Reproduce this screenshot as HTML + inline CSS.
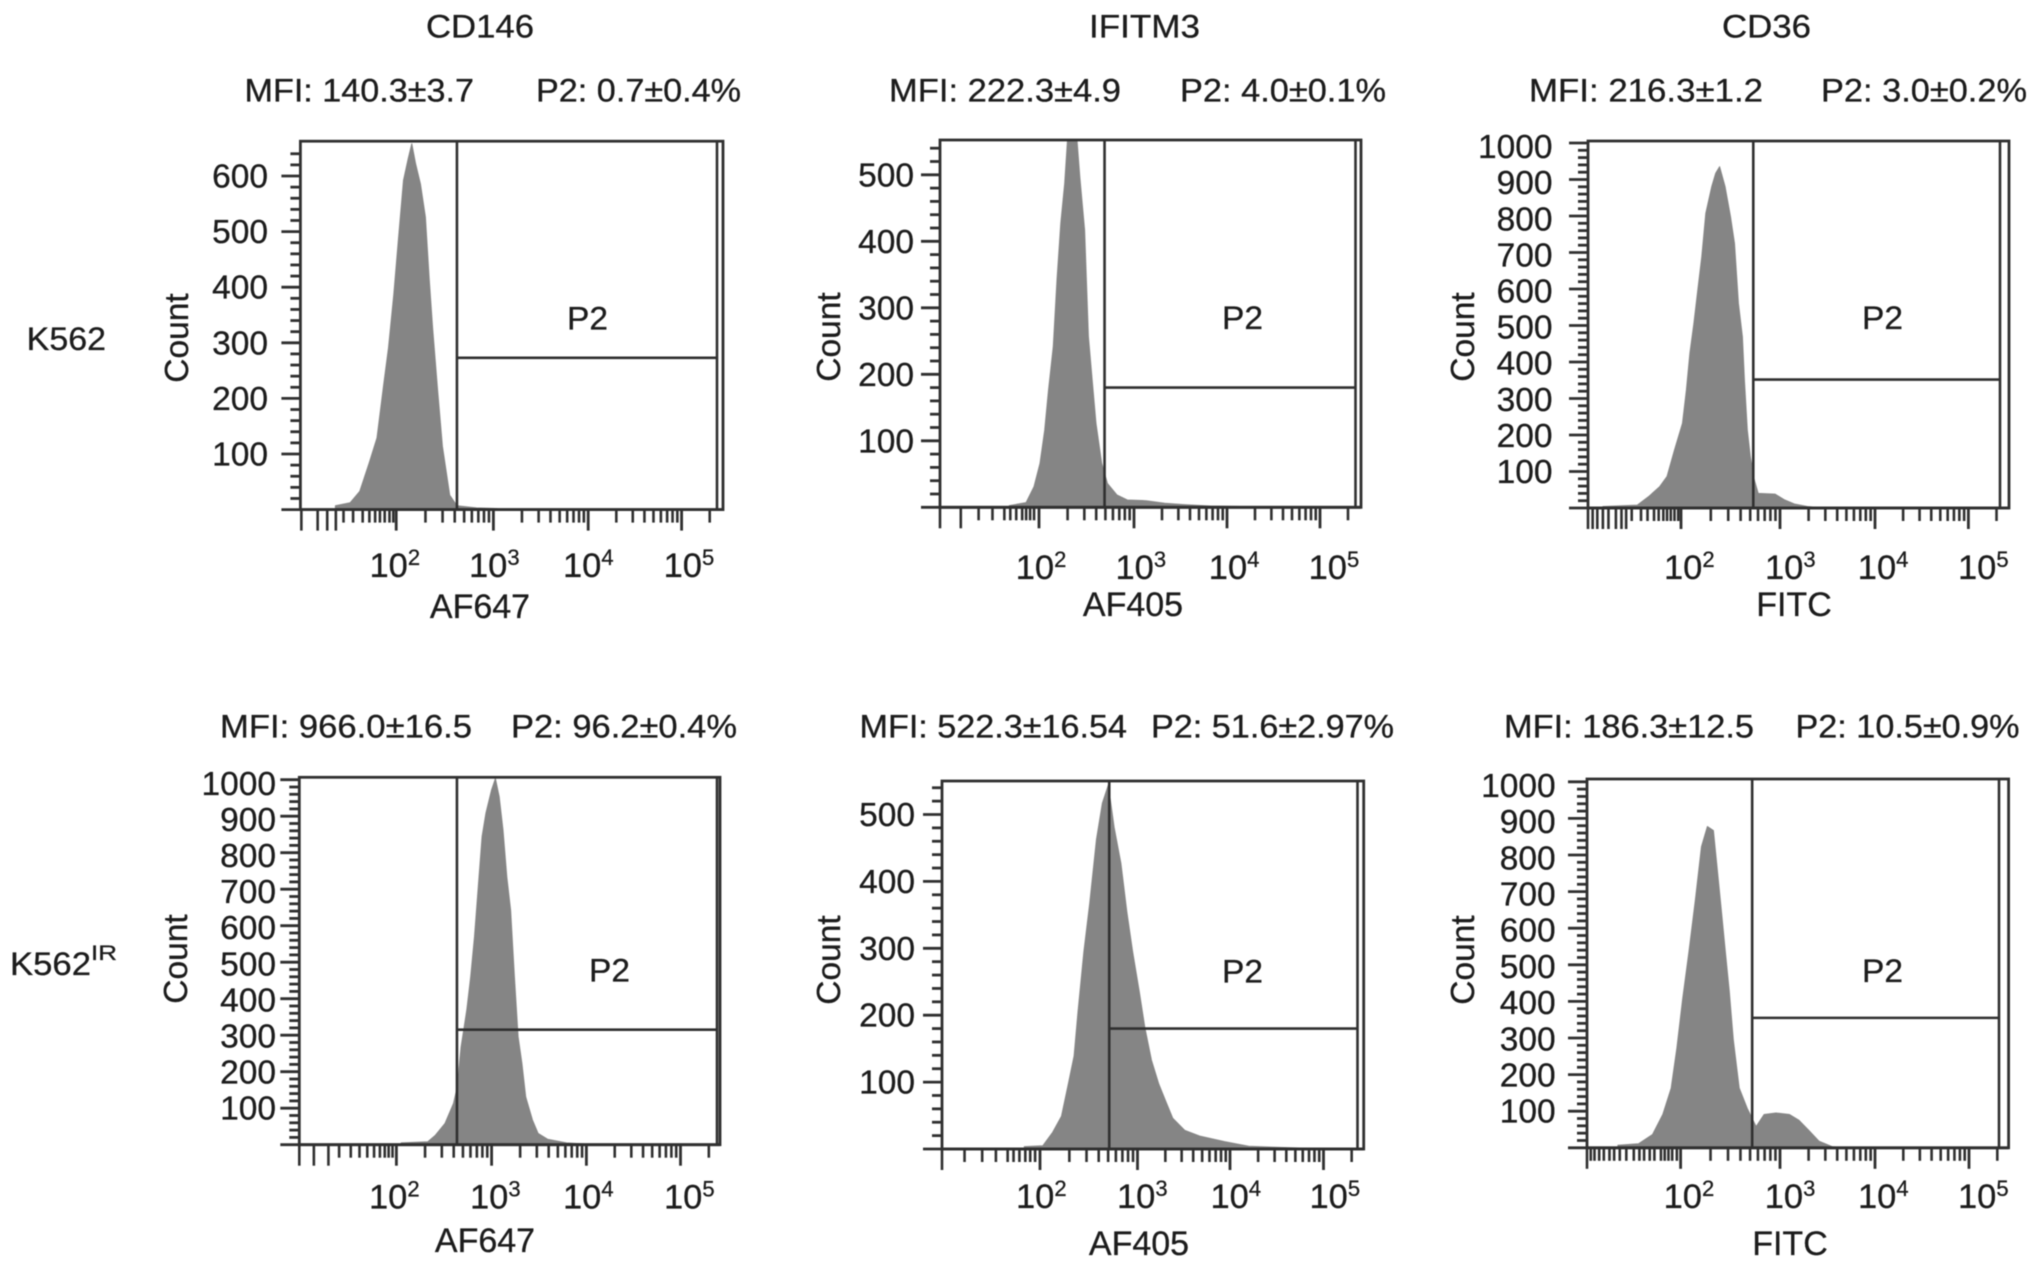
<!DOCTYPE html>
<html lang="en">
<head>
<meta charset="utf-8">
<title>Flow cytometry histograms</title>
<style>
html,body{margin:0;padding:0;background:#fff;}
body{width:2032px;height:1266px;overflow:hidden;}
svg{display:block;filter:blur(0.5px);}
text{font-family:"Liberation Sans",sans-serif;fill:#1c1c1c;stroke:#1c1c1c;stroke-width:0.3px;font-size:32px;}
</style>
</head>
<body>
<svg id="figure" width="2032" height="1266" viewBox="0 0 2032 1266" xmlns="http://www.w3.org/2000/svg">
  <text x="426" y="37.5" textLength="108" lengthAdjust="spacingAndGlyphs">CD146</text>
  <text x="1089" y="37.5" textLength="111" lengthAdjust="spacingAndGlyphs">IFITM3</text>
  <text x="1722" y="37.5" textLength="89" lengthAdjust="spacingAndGlyphs">CD36</text>

  <text x="244.5" y="101.5" textLength="229.5" lengthAdjust="spacingAndGlyphs">MFI: 140.3±3.7</text>
  <text x="536" y="101.5" textLength="205" lengthAdjust="spacingAndGlyphs">P2: 0.7±0.4%</text>
  <text x="889" y="101.5" textLength="232" lengthAdjust="spacingAndGlyphs">MFI: 222.3±4.9</text>
  <text x="1180" y="101.5" textLength="206" lengthAdjust="spacingAndGlyphs">P2: 4.0±0.1%</text>
  <text x="1529" y="101.5" textLength="234" lengthAdjust="spacingAndGlyphs">MFI: 216.3±1.2</text>
  <text x="1821" y="101.5" textLength="206" lengthAdjust="spacingAndGlyphs">P2: 3.0±0.2%</text>

  <text x="220" y="737.5" textLength="252" lengthAdjust="spacingAndGlyphs">MFI: 966.0±16.5</text>
  <text x="511" y="737.5" textLength="226" lengthAdjust="spacingAndGlyphs">P2: 96.2±0.4%</text>
  <text x="859.5" y="737.5" textLength="267.5" lengthAdjust="spacingAndGlyphs">MFI: 522.3±16.54</text>
  <text x="1151" y="737.5" textLength="243" lengthAdjust="spacingAndGlyphs">P2: 51.6±2.97%</text>
  <text x="1504" y="737.5" textLength="250" lengthAdjust="spacingAndGlyphs">MFI: 186.3±12.5</text>
  <text x="1795.5" y="737.5" textLength="224" lengthAdjust="spacingAndGlyphs">P2: 10.5±0.9%</text>

  <text x="26.7" y="350" textLength="79.3" lengthAdjust="spacingAndGlyphs">K562</text>
  <text x="10" y="975" textLength="81" lengthAdjust="spacingAndGlyphs">K562</text>
  <text x="91" y="960" style="font-size:21px" textLength="26" lengthAdjust="spacingAndGlyphs">IR</text>
</svg>

<script>
// Shared axis data
const decadeLogs = [2, 3, 4, 5];
const decadeMultipliers = [2, 3, 4, 5, 6, 7, 8, 9];

// K562 / CD146
const k562Cd146Logs = [1.365,1.52,1.62,1.72,1.80,1.87,1.92,1.975,2.025,2.075,2.125,2.16,2.20,2.25,2.30,2.34,2.375,2.425,2.475,2.55,2.625,2.825,3.025,3.1];
const k562Cd146Counts = [7,12.5,33,85,129,225,291,387,490,592,632,658,622,585,526,415,327,217,114,26,7,3,2,0];
const k562Cd146YTicks = [100,200,300,400,500,600];
const k562Cd146LowTicks = [1.01,1.18,1.28,1.37,1.45,1.55,1.65,1.72,1.78,1.83,1.88,1.93,1.97];

// K562 / IFITM3
const k562Ifitm3Logs = [1.70,1.87,1.95,2.01,2.06,2.10,2.15,2.19,2.23,2.27,2.30,2.35,2.40,2.43,2.48,2.52,2.56,2.60,2.66,2.72,2.82,2.93,3.13,3.33,3.54,3.82,4.23,4.76];
const k562Ifitm3Counts = [2.5,7,31,66,116,176,242,342,427,487,552,600,552,497,417,257,191,126,66,36,18.5,11,10,6,4,2,1,0.5];
const k562Ifitm3YTicks = [100,200,300,400,500];
const k562Ifitm3LowTicks = [1.0,1.21,1.39,1.53,1.65,1.71,1.77,1.83,1.87,1.91,1.95];

// K562 / CD36
const k562Cd36Logs = [1.16,1.53,1.65,1.77,1.85,1.93,2.015,2.055,2.09,2.13,2.17,2.21,2.25,2.31,2.35,2.39,2.445,2.50,2.54,2.58,2.62,2.64,2.67,2.70,2.74,2.78,2.95,3.05,3.15,3.29,3.42];
const k562Cd36Counts = [4,8,31,58,86,159,232,323,424,506,597,689,807,880,917,935,880,798,725,561,469,351,214,141,77,40,38,22,11,4,1];
const k562Cd36YTicks = [100,200,300,400,500,600,700,800,900,1000];
const k562Cd36LowTicks = [1.0,1.05,1.10,1.16,1.22,1.30,1.36,1.41,1.47,1.57,1.64,1.71,1.76,1.81,1.85,1.89,1.93,1.97];

// K562IR / CD146
const k562irCd146Logs = [2.05,2.33,2.41,2.51,2.60,2.64,2.68,2.74,2.78,2.82,2.86,2.90,2.94,3.00,3.04,3.08,3.12,3.16,3.20,3.24,3.28,3.32,3.36,3.43,3.49,3.59,3.79,3.99];
const k562irCd146Counts = [5,8,26,58,113,159,268,369,460,570,707,844,908,972,1003,953,862,734,643,460,296,223,131,68,31,15,5,2];
const k562irCd146YTicks = [100,200,300,400,500,600,700,800,900,1000];
const k562irCd146LowTicks = [1.0,1.15,1.30,1.41,1.53,1.62,1.70,1.77,1.83,1.88,1.92,1.96];

// K562IR / IFITM3
const k562irIfitm3Logs = [1.84,2.03,2.13,2.22,2.29,2.35,2.39,2.45,2.51,2.58,2.64,2.70,2.76,2.83,2.89,2.95,3.02,3.08,3.15,3.23,3.30,3.38,3.51,3.68,3.94,4.2,4.66,4.96];
const k562irIfitm3Counts = [3.6,5,25,49,97,139,205,295,367,463,517,544,481,427,355,295,235,181,133,97,73,46,28,19,11,4,2,0.6];
const k562irIfitm3YTicks = [100,200,300,400,500];
const k562irIfitm3LowTicks = [1.0,1.23,1.41,1.55,1.67,1.73,1.79,1.85,1.90,1.95];

// K562IR / CD36
const k562irCd36Logs = [1.33,1.55,1.70,1.81,1.90,1.96,2.02,2.085,2.15,2.21,2.27,2.33,2.37,2.41,2.45,2.49,2.53,2.59,2.67,2.76,2.84,2.96,3.10,3.20,3.305,3.41,3.55,3.65];
const k562irCd36Counts = [7,11,36,91,163,273,405,537,680,823,878,867,757,647,537,427,295,163,108,58,91,95,91,75,47,18,3,1];
const k562irCd36YTicks = [100,200,300,400,500,600,700,800,900,1000];
const k562irCd36LowTicks = [1.0,1.04,1.08,1.13,1.18,1.24,1.29,1.35,1.42,1.50,1.56,1.61,1.67,1.72,1.79,1.83,1.87,1.91,1.96];

// Gate thresholds (log position, count)
const gateLogs = [2.625,2.69,2.73,2.636,2.71,2.72];
const gateCounts = [273,180,352,315,180,355];

const SVG_NS = 'http://www.w3.org/2000/svg';
const figure = document.getElementById('figure');
const INK = '#303030';

const panels = [
  {id:'k562-cd146', logs:k562Cd146Logs, counts:k562Cd146Counts, yTicks:k562Cd146YTicks, lowTicks:k562Cd146LowTicks, longLow:4, left:300.4, inner:717, outer:723, top:141.2, base:509.6, perCount:0.556, anchors:[300.4,396.2,493.4,588.2,681.6], labelX:268, drift:0, maxCount:640, gate:0, xLabel:'AF647', xLabelX:480, xLabelY:618, decLeft:[369.5,469,563,663.6], decY:577, countX:188, countY:338, p2X:567, p2Y:329.5},
  {id:'k562-ifitm3', logs:k562Ifitm3Logs, counts:k562Ifitm3Counts, yTicks:k562Ifitm3YTicks, lowTicks:k562Ifitm3LowTicks, longLow:2, left:940, inner:1355.5, outer:1361, top:140, base:507.3, perCount:0.665, anchors:[940,1039,1134,1227,1320], labelX:914, drift:0, maxCount:540, gate:1, xLabel:'AF405', xLabelX:1133, xLabelY:616, decLeft:[1015.7,1115.5,1208.8,1308.6], decY:579, countX:840, countY:337, p2X:1222, p2Y:329},
  {id:'k562-cd36', logs:k562Cd36Logs, counts:k562Cd36Counts, yTicks:k562Cd36YTicks, lowTicks:k562Cd36LowTicks, longLow:8, left:1588, inner:2000, outer:2009, top:141, base:508, perCount:0.365, anchors:[1588,1681,1780,1875,1968.4], labelX:1552.5, drift:0.004, maxCount:1000, gate:2, xLabel:'FITC', xLabelX:1794, xLabelY:616, decLeft:[1664,1765,1857.8,1958], decY:579, countX:1474, countY:337, p2X:1862, p2Y:329},
  {id:'k562ir-cd146', logs:k562irCd146Logs, counts:k562irCd146Counts, yTicks:k562irCd146YTicks, lowTicks:k562irCd146LowTicks, longLow:3, left:299.3, inner:717, outer:720, top:777.3, base:1144.7, perCount:0.365, anchors:[299.3,396.4,491.6,586.4,680.5], labelX:276, drift:0.004, maxCount:1000, gate:3, xLabel:'AF647', xLabelX:485, xLabelY:1252, decLeft:[369,470,563,664], decY:1208.7, countX:187, countY:959, p2X:589, p2Y:981.7},
  {id:'k562ir-ifitm3', logs:k562irIfitm3Logs, counts:k562irIfitm3Counts, yTicks:k562irIfitm3YTicks, lowTicks:k562irIfitm3LowTicks, longLow:1, left:942, inner:1357.5, outer:1363.7, top:781, base:1149, perCount:0.669, anchors:[942,1040,1137.5,1230,1323.5], labelX:915, drift:0, maxCount:540, gate:4, xLabel:'AF405', xLabelX:1139, xLabelY:1255, decLeft:[1016,1117,1210.5,1309.5], decY:1208, countX:840, countY:960, p2X:1222, p2Y:982.4},
  {id:'k562ir-cd36', logs:k562irCd36Logs, counts:k562irCd36Counts, yTicks:k562irCd36YTicks, lowTicks:k562irCd36LowTicks, longLow:1, left:1587, inner:1999, outer:2008.6, top:779, base:1147.8, perCount:0.366, anchors:[1587,1680.6,1780,1875,1969], labelX:1555.7, drift:0.004, maxCount:1000, gate:5, xLabel:'FITC', xLabelX:1790, xLabelY:1255, decLeft:[1663.6,1764.7,1858,1958], decY:1208, countX:1474, countY:960, p2X:1862, p2Y:982}
];

function xScale(p, log) {
  const i = Math.min(3, Math.max(0, Math.floor(log) - 1));
  const a = p.anchors[i], b = p.anchors[i + 1];
  return a + (log - (i + 1)) * (b - a);
}
function yScale(p, count) {
  return Math.max(p.top, p.base - count * p.perCount);
}
function make(tag, attrs, parent) {
  const el = document.createElementNS(SVG_NS, tag);
  for (const k in attrs) el.setAttribute(k, attrs[k]);
  parent.appendChild(el);
  return el;
}
function strokeLine(parent, x1, y1, x2, y2, w) {
  return make('line', {x1:x1, y1:y1, x2:x2, y2:y2, stroke:INK, 'stroke-width':w}, parent);
}

panels.forEach(function (p) {
  const g = make('g', {}, figure);
  
  

  // Histogram
  let pts = [xScale(p, p.logs[0]) + ',' + p.base];
  p.logs.forEach(function (l, i) {
    pts.push(xScale(p, l).toFixed(1) + ',' + yScale(p, p.counts[i]).toFixed(1));
  });
  pts.push(xScale(p, p.logs[p.logs.length - 1]) + ',' + p.base);
  const hist = make('polygon', {points: pts.join(' '), fill:'#858585', stroke:'#858585', 'stroke-width':1, 'stroke-linejoin':'round'}, g);
  
  

  // Y ticks: a minor tick every 20 counts, a major tick every 100
  for (let v = 20; v <= p.maxCount; v += 20) {
    const y = yScale(p, v);
    const isMajor = p.yTicks.indexOf(v) >= 0;
    const tick = strokeLine(g, p.left - (isMajor ? 19 : 10), y, p.left, y, 2.8);
    
    
  }
  p.yTicks.forEach(function (v) {
    const y = yScale(p, v);
    const label = make('text', {x:p.labelX, y:(y + 11.5 + (v - 100) * p.drift).toFixed(1), 'text-anchor':'end', style:'font-size:33.5px'}, g);
    label.textContent = String(v);
    
    
  });

  // X ticks: low-end compressed ticks
  p.lowTicks.forEach(function (l, i) {
    const x = xScale(p, l);
    const t = strokeLine(g, x, p.base, x, p.base + (i < p.longLow ? 21 : 13), 2.6);
    
    
  });
  // X ticks: decades and their minor multiples
  decadeLogs.forEach(function (d, di) {
    const xd = xScale(p, d);
    const major = strokeLine(g, xd, p.base, xd, p.base + 21, 2.8);
    
    
    if (d < 5) {
      decadeMultipliers.forEach(function (m) {
        const x = xScale(p, d + Math.log10(m));
        const t = strokeLine(g, x, p.base, x, p.base + 13, 2.6);
        
        
      });
    } else {
      const x = xScale(p, d + Math.log10(2));
      const t = strokeLine(g, x, p.base, x, p.base + 13, 2.6);
      
      
    }
    const lab = make('text', {x:p.decLeft[di], y:p.decY, style:'font-size:34.5px'}, g);
    
    
    const base = make('tspan', {}, lab);
    base.textContent = '10';
    const sup = make('tspan', {dy:-12, style:'font-size:22px'}, lab);
    sup.textContent = String(d);
  });

  // Gate
  const gx = xScale(p, gateLogs[p.gate]);
  const gy = yScale(p, gateCounts[p.gate]);
  const gv = strokeLine(g, gx, p.top, gx, p.base, 2.6);
  
  
  const gh = strokeLine(g, gx, gy, p.inner, gy, 2.6);
  
  
  const gr = strokeLine(g, p.inner, p.top, p.inner, p.base, 2.6);
  
  

  // Frame and baseline
  const frame = make('rect', {x:p.left, y:p.top, width:p.outer - p.left, height:p.base - p.top, fill:'none', stroke:INK, 'stroke-width':2.8}, g);
  
  
  const baseLine = strokeLine(g, p.left - 19, p.base, p.outer, p.base, 2.8);
  
  

  // Labels
  const xTitle = make('text', {x:p.xLabelX, y:p.xLabelY, 'text-anchor':'middle', style:'font-size:34px'}, g);
  xTitle.textContent = p.xLabel;
  
  
  const yTitle = make('text', {x:0, y:0, 'text-anchor':'middle', transform:'translate(' + p.countX + ' ' + p.countY + ') rotate(-90)', style:'font-size:33.5px'}, g);
  yTitle.textContent = 'Count';
  
  
  const gateLabel = make('text', {x:p.p2X, y:p.p2Y, textLength:41, lengthAdjust:'spacingAndGlyphs'}, g);
  gateLabel.textContent = 'P2';
  
  
});
</script>
</body>
</html>
